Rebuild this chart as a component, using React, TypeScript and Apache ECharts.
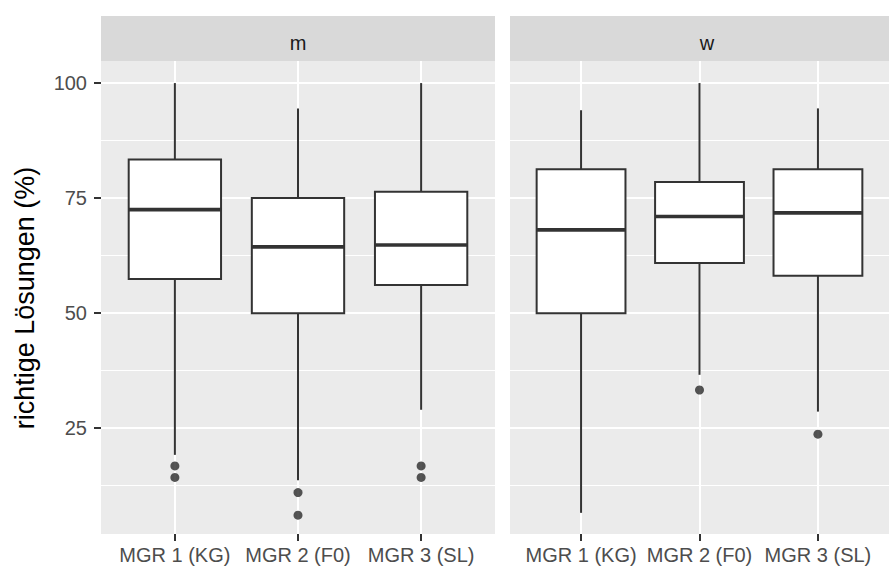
import React, { useEffect, useRef } from "react";
import * as echarts from "echarts";

const categories = ["MGR 1 (KG)", "MGR 2 (F0)", "MGR 3 (SL)"];
const panels = ["m", "w"];

// [min whisker, Q1, median, Q3, max whisker]
const boxM = [
  [19.2, 57.4, 72.5, 83.4, 100],
  [13.7, 50.0, 64.4, 75.0, 94.5],
  [29.0, 56.1, 64.8, 76.4, 100],
];
const boxW = [
  [6.6, 50.0, 68.1, 81.3, 94.1],
  [36.6, 60.9, 71.0, 78.5, 100],
  [28.6, 58.1, 71.8, 81.3, 94.5],
];
// outliers: [category index (1-based), value]
const outM = [
  [1, 16.8], [1, 14.3],
  [2, 11.0], [2, 6.1],
  [3, 16.8], [3, 14.3],
];
const outW = [
  [2, 33.3],
  [3, 23.7],
];

const yMajor = [25, 50, 75, 100];
const yMinor = [12.5, 37.5, 62.5, 87.5];
const xTicks = [1, 2, 3];

const FONT = "'Liberation Sans', Arial, sans-serif";
const STROKE = "#333333";

export default function App() {
  const ref = useRef<HTMLDivElement>(null);
  useEffect(() => {
    document.body.style.margin = "0";
    const chart = echarts.init(ref.current!, null, { renderer: "svg" });

    const grids = [
      { left: 101, top: 61, width: 394, height: 473 },
      { left: 510, top: 61, width: 394, height: 473 },
    ];

    const xAxes = grids.map((_, i) => ({
      type: "value",
      gridIndex: i,
      min: 0.4,
      max: 3.6,
      axisLine: { show: false },
      axisTick: {
        show: true,
        customValues: xTicks,
        length: 7,
        lineStyle: { color: STROKE, width: 2 },
      },
      axisLabel: {
        show: true,
        customValues: xTicks,
        formatter: (v: number) => categories[Math.round(v) - 1] ?? "",
        color: "#4D4D4D",
        fontSize: 20,
        fontFamily: FONT,
        margin: 11,
      },
      splitLine: { show: true, lineStyle: { color: "#FFFFFF", width: 2 } },
    }));

    const yAxes: any[] = [];
    grids.forEach((_, i) => {
      yAxes.push({
        type: "value",
        gridIndex: i,
        min: 2.0,
        max: 104.8,
        axisLine: { show: false },
        axisTick: {
          show: i === 0,
          customValues: yMajor,
          length: 7,
          lineStyle: { color: STROKE, width: 2 },
        },
        axisLabel: {
          show: i === 0,
          customValues: yMajor,
          color: "#4D4D4D",
          fontSize: 20,
          fontFamily: FONT,
          margin: 14,
        },
        splitLine: { show: true, lineStyle: { color: "#FFFFFF", width: 2 } },
      });
      yAxes.push({
        type: "value",
        gridIndex: i,
        min: 2.0,
        max: 104.8,
        axisLine: { show: false },
        axisTick: { show: false, customValues: yMinor },
        axisLabel: { show: false, customValues: yMinor },
        splitLine: { show: true, lineStyle: { color: "#FFFFFF", width: 1.1 } },
      });
    });

    const boxData = (arr: number[][]) => arr.map((b, i) => [i + 1, ...b]);

    const renderBox = (params: any, api: any) => {
      const x = api.value(0);
      const lo = api.coord([x, api.value(1)]);
      const q1 = api.coord([x, api.value(2)]);
      const med = api.coord([x, api.value(3)]);
      const q3 = api.coord([x, api.value(4)]);
      const hi = api.coord([x, api.value(5)]);
      const half = api.size([0.75, 0])[0] / 2;
      const cx = q1[0];
      return {
        type: "group",
        children: [
          { type: "line", shape: { x1: cx, y1: lo[1], x2: cx, y2: q1[1] }, style: { stroke: STROKE, lineWidth: 2 } },
          { type: "line", shape: { x1: cx, y1: q3[1], x2: cx, y2: hi[1] }, style: { stroke: STROKE, lineWidth: 2 } },
          {
            type: "rect",
            shape: { x: cx - half, y: q3[1], width: half * 2, height: q1[1] - q3[1] },
            style: { fill: "#FFFFFF", stroke: STROKE, lineWidth: 2 },
          },
          { type: "line", shape: { x1: cx - half, y1: med[1], x2: cx + half, y2: med[1] }, style: { stroke: STROKE, lineWidth: 3.6 } },
        ],
      };
    };

    const series: any[] = [];
    [boxM, boxW].forEach((b, i) => {
      series.push({
        type: "custom",
        xAxisIndex: i,
        yAxisIndex: i * 2,
        renderItem: renderBox,
        encode: { x: 0, y: [1, 2, 3, 4, 5] },
        data: boxData(b),
        z: 3,
      });
    });
    [outM, outW].forEach((o, i) => {
      series.push({
        type: "scatter",
        xAxisIndex: i,
        yAxisIndex: i * 2,
        data: o,
        symbol: "circle",
        symbolSize: 9,
        itemStyle: { color: "#2B2B2B" },
        z: 4,
      });
    });

    const graphic: any[] = [];
    grids.forEach((g, i) => {
      graphic.push({
        type: "rect",
        shape: { x: g.left, y: 16, width: g.width, height: 45 },
        style: { fill: "#D9D9D9" },
        silent: true,
      });
      graphic.push({
        type: "text",
        x: g.left + g.width / 2,
        y: 43,
        style: {
          text: panels[i],
          fill: "#1A1A1A",
          fontSize: 20,
          fontFamily: FONT,
          align: "center",
          verticalAlign: "middle",
        },
        silent: true,
      });
    });
    graphic.push({
      type: "text",
      x: 25,
      y: 298,
      rotation: Math.PI / 2,
      style: {
        text: "richtige Lösungen (%)",
        fill: "#000000",
        fontSize: 27,
        fontFamily: FONT,
        align: "center",
        verticalAlign: "middle",
      },
      silent: true,
    });

    chart.setOption({
      animation: false,
      backgroundColor: "#FFFFFF",
      grid: grids.map((g) => ({ ...g, show: true, backgroundColor: "#EBEBEB", borderWidth: 0, containLabel: false })),
      xAxis: xAxes,
      yAxis: yAxes,
      series,
      graphic,
    });

    return () => chart.dispose();
  }, []);

  return <div ref={ref} style={{ width: 889, height: 571 }} />;
}
